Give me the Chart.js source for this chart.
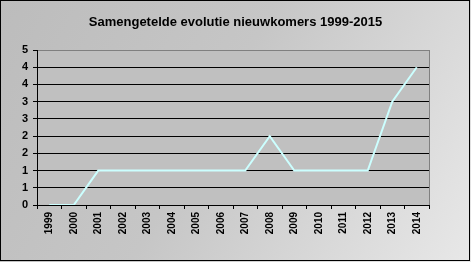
<!DOCTYPE html>
<html>
<head>
<meta charset="utf-8">
<script src="https://cdn.jsdelivr.net/npm/chart.js@4/dist/chart.umd.min.js"></script>
<style>
html,body{margin:0;padding:0;background:#fff;}
#wrap{width:471px;height:262px;position:relative;}
</style>
</head>
<body>
<div id="wrap"><canvas id="c" width="471" height="262"></canvas></div>
<script>
const titleText = 'Samengetelde evolutie nieuwkomers 1999-2015';
const years = ['1999','2000','2001','2002','2003','2004','2005','2006','2007','2008','2009','2010','2011','2012','2013','2014'];
const newcomers = [0, 0, 1, 1, 1, 1, 1, 1, 1, 2, 1, 1, 1, 1, 3, 4];
const yTickLabels = ['0','1','1','2','2','3','3','4','4','5'];

const bgPlugin = {
  id: 'bg',
  beforeDraw(chart) {
    const ctx = chart.ctx, w = chart.width, h = chart.height;
    ctx.save();
    const g = ctx.createLinearGradient(0, 0, w, h);
    g.addColorStop(0, '#bcbcbc');
    g.addColorStop(0.45, '#c6c6c6');
    g.addColorStop(1, '#e8e8e8');
    ctx.fillStyle = g;
    ctx.fillRect(0, 0, w, h);
    const a = chart.chartArea;
    ctx.fillStyle = '#c0c0c0';
    ctx.fillRect(a.left, a.top, a.right - a.left, a.bottom - a.top);
    ctx.restore();
  },
  afterDraw(chart) {
    const ctx = chart.ctx, w = chart.width, h = chart.height;
    const a = chart.chartArea;
    ctx.save();
    ctx.strokeStyle = '#808080';
    ctx.lineWidth = 1;
    ctx.beginPath();
    ctx.moveTo(Math.round(a.right) + 0.5, a.top);
    ctx.lineTo(Math.round(a.right) + 0.5, a.bottom);
    ctx.stroke();
    ctx.strokeStyle = '#000';
    ctx.strokeRect(0.5, 0.5, w - 2, h - 2);
    ctx.restore();
  }
};

new Chart(document.getElementById('c'), {
  type: 'line',
  data: {
    labels: years,
    datasets: [{
      data: newcomers,
      borderColor: '#ccffff',
      borderWidth: 2,
      pointRadius: 0,
      tension: 0,
      fill: false
    }]
  },
  options: {
    responsive: false,
    animation: false,
    layout: { padding: 0 },
    plugins: {
      legend: { display: false },
      tooltip: { enabled: false },
      title: {
        display: true,
        text: titleText,
        color: '#000',
        font: { family: 'Liberation Sans', size: 13, weight: 'bold' },
        padding: { top: 15, bottom: 19.4 }
      }
    },
    scales: {
      x: {
        type: 'category',
        offset: true,
        grid: { offset: true, drawOnChartArea: false, drawTicks: true, tickLength: 4, color: '#000' },
        border: { display: true, color: '#000', width: 1 },
        ticks: {
          color: '#000',
          font: { family: 'Liberation Sans', size: 10, weight: 'bold' },
          minRotation: 90, maxRotation: 90, autoSkip: false, padding: 3
        },
        afterFit(s) { s.height = 57; }
      },
      y: {
        min: 0, max: 4.5,
        grid: {
          color: (c) => (c.tick && c.tick.value >= 4.5 ? '#808080' : '#000'),
          tickColor: '#000',
          tickLength: 4,
          drawTicks: true
        },
        border: { display: true, color: '#000', width: 1 },
        ticks: {
          stepSize: 0.5,
          color: '#000',
          font: { family: 'Liberation Sans', size: 11, weight: 'bold' },
          padding: 5,
          callback: (v, i) => yTickLabels[i]
        },
        afterFit(s) { s.width = 37; }
      },
      yRight: {
        position: 'right',
        display: true,
        min: 0, max: 4.5,
        grid: { display: false },
        border: { display: false },
        ticks: { display: false },
        afterFit(s) { s.width = 42; }
      }
    }
  },
  plugins: [bgPlugin]
});
</script>
</body>
</html>
